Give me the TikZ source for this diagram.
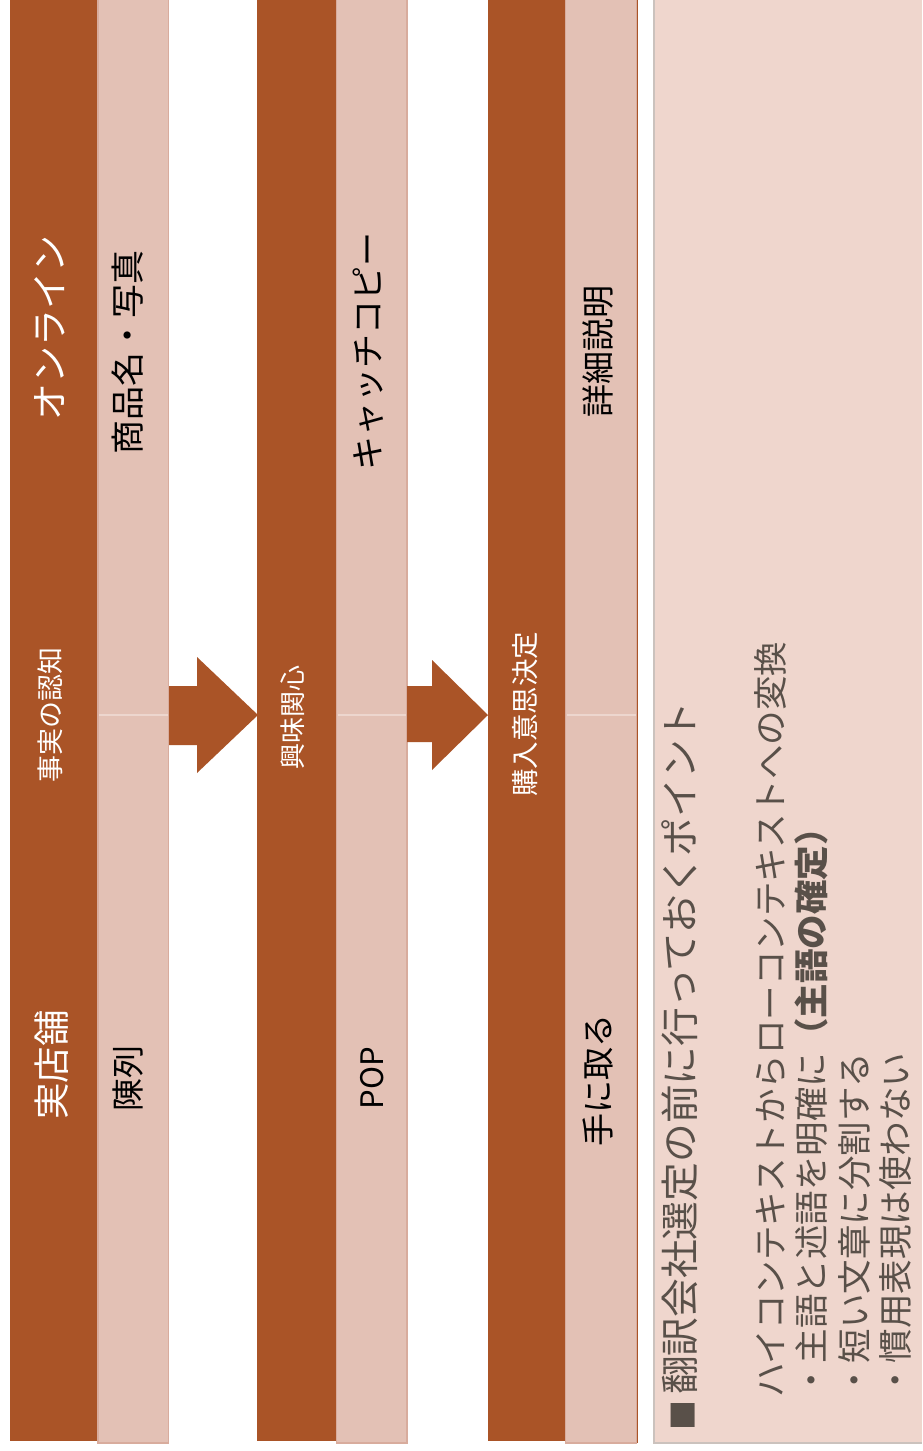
\documentclass[tikz,border=0pt]{standalone}
\usepackage{fontspec}
\setmainfont{Noto Sans CJK JP}
\definecolor{darkbr}{HTML}{AA5427}
\definecolor{lightpk}{HTML}{E3C1B5}
\definecolor{lightedge}{HTML}{D8AC9D}
\definecolor{divline}{HTML}{EDD6CE}
\definecolor{panelfill}{HTML}{EFD6CD}
\definecolor{paneledge}{HTML}{CBC2BD}
\definecolor{graytext}{HTML}{595049}
\newcommand\jfs[1]{\fontsize{#1pt}{#1pt}\selectfont}
\tikzset{
  darkcol/.style={fill=darkbr},
  lightcol/.style={fill=lightpk, draw=lightedge, line width=1.5pt},
  divider/.style={draw=divline, line width=2.5pt},
  flowarrow/.style={fill=darkbr},
  wlabel/.style={rotate=90, text=white, inner sep=0pt},
  blabel/.style={rotate=90, text=black, inner sep=0pt},
  pline/.style={rotate=90, text=graytext, anchor=base west, inner sep=0pt, font=\jfs{34.5}},
}
\begin{document}
\begin{tikzpicture}[x=1pt,y=-1pt]
\useasboundingbox (0,0) rectangle (922,1451);
\fill[white] (0,0) rectangle (922,1451);
% column 1
\fill[darkcol] (10,0) rectangle (97.5,1441);
\filldraw[lightcol] (98,-2) rectangle (168.5,1443);
\draw[divider] (99,715) -- (167.5,715);
% column 2
\fill[darkcol] (257,0) rectangle (336,1441);
\filldraw[lightcol] (336.5,-2) rectangle (407,1443);
\draw[divider] (337.5,715) -- (406,715);
% column 3
\fill[darkcol] (488,0) rectangle (565,1441);
\filldraw[lightcol] (565.5,-2) rectangle (636.5,1443);
\draw[divider] (566.5,715) -- (635.5,715);
\draw[darkbr, line width=1pt] (637,0) -- (637,1443);
% arrows
\fill[flowarrow] (169,686) -- (197,686) -- (197,657) -- (258,715) -- (197,773) -- (197,745) -- (169,745) -- cycle;
\fill[flowarrow] (407,686) -- (432,686) -- (432,660) -- (488,715) -- (432,770) -- (432,742) -- (407,742) -- cycle;
% panel
\fill[panelfill] (654,0) rectangle (922,1443);
\draw[paneledge, line width=1.5pt] (654,0) -- (654,1443) -- (922,1443);
% labels column 1
\node[wlabel, font=\jfs{37}] (online) at (50,328) {オンライン};
\node[wlabel, font=\jfs{27}] (ninchi) at (50,715) {事実の認知};
\node[wlabel, font=\jfs{36.5}] (jitsu) at (52,1065) {実店舗};
\node[blabel, font=\jfs{34}] (shohin) at (128,352) {商品名・写真};
\node[blabel, font=\jfs{33}] (chinretsu) at (128,1078) {陳列};
% labels column 2
\node[wlabel, font=\jfs{26}] (kyomi) at (293,717) {興味関心};
\node[blabel, font=\jfs{34}] (catch) at (368,351) {キャッチコピー};
\node[blabel, font=\jfs{31}] (pop) at (372,1078) {POP};
% labels column 3
\node[wlabel, font=\jfs{27.5}] (konyu) at (525,714) {購入意思決定};
\node[blabel, font=\jfs{33}] (shosai) at (598,351) {詳細説明};
\node[blabel, font=\jfs{33}] (tenitoru) at (598,1080) {手に取る};
% panel text
\node[pline, font=\jfs{38.7}] (p1) at (694,1431) {{\jfs{30}■}\hspace{6pt}翻訳会社選定の前に行っておくポイント};
\node[pline] (p2) at (783,1398) {ハイコンテキストからローコンテキストへの変換};
\node[pline] (p3) at (824,1398) {・主語と述語を明確に\textbf{（主語の確定）}};
\node[pline] (p4) at (867,1398) {・短い文章に分割する};
\node[pline] (p5) at (908,1398) {・慣用表現は使わない};
\end{tikzpicture}
\end{document}
